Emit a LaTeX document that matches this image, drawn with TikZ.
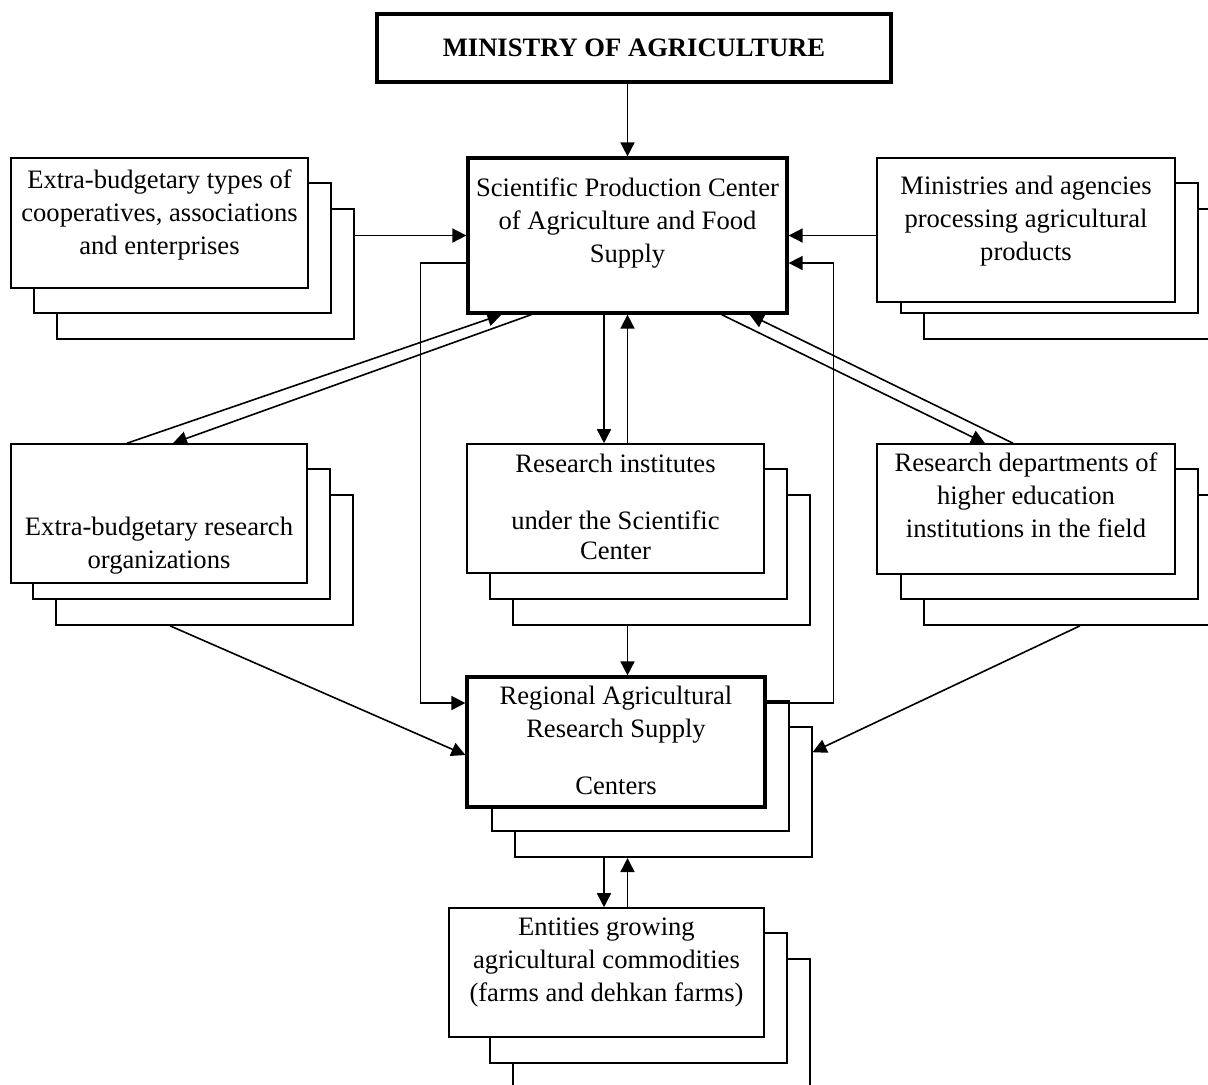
\documentclass[tikz,border=0pt]{standalone}
\usepackage{fontspec}
\setmainfont{Liberation Serif}
\usetikzlibrary{arrows.meta,backgrounds}

\newcommand{\bodyfont}{\fontsize{13.3}{16.5}\selectfont}
\newcommand{\backboxes}[1]{%
  \node[back, anchor=north east] (#1-3) at ([shift={(46,51)}]#1.north east) {};
  \node[back, anchor=north east] (#1-2) at ([shift={(23,25)}]#1.north east) {};
}

\tikzset{
  box/.style={draw, fill=white, line width=0.8pt, align=center, font=\bodyfont},
  thickbox/.style={box, line width=1.6pt},
  back/.style={draw, fill=white, line width=0.8pt, minimum width=148.5pt, minimum height=65pt, inner sep=0pt},
  tpos/.style 2 args={text height=#1, text depth=#2},
  arr/.style={line width=0.8pt, -{Triangle[length=7pt,width=7pt]}},
}

\begin{document}
\begin{tikzpicture}[x=0.5pt, y=-0.5pt]
\useasboundingbox (0,0) rectangle (1208,1084);

\node[thickbox, minimum width=257pt, minimum height=34pt, font=\bodyfont\bfseries] (ministry) at (634,48) {MINISTRY OF AGRICULTURE};
\node[thickbox, minimum width=159.5pt, minimum height=77.5pt, tpos={31pt}{4.5pt}] (spc) at (627.5,235.5)
  {Scientific Production Center\\of Agriculture and Food\\Supply};
\node[box, minimum width=148.5pt, minimum height=65pt, tpos={35pt}{4pt}] (coop) at (159.5,223)
  {Extra-budgetary types of\\cooperatives, associations\\and enterprises};
\node[box, minimum width=149pt, minimum height=72pt, tpos={34pt}{4pt}] (mins) at (1026,230)
  {Ministries and agencies\\processing agricultural\\products};
\node[box, minimum width=148pt, minimum height=69.5pt, tpos={55.5pt}{1pt}] (orgs) at (159,513.5)
  {Extra-budgetary research\\organizations};
\node[box, minimum width=148.5pt, minimum height=64.5pt, tpos={52pt}{1.5pt}] (inst) at (615.5,508.5)
  {Research institutes\\[12pt]under the Scientific\\[-1.5pt]Center};
\node[box, minimum width=149pt, minimum height=65pt, tpos={32pt}{4pt}] (dept) at (1026,509)
  {Research departments of\\higher education\\institutions in the field};
\node[thickbox, minimum width=149pt, minimum height=65pt, tpos={53pt}{1pt}] (reg) at (616,742)
  {Regional Agricultural\\Research Supply\\[12pt]Centers};
\node[box, minimum width=157.5pt, minimum height=64.5pt, tpos={32.5pt}{4pt}] (ent) at (606.5,972.5)
  {Entities growing\\agricultural commodities\\(farms and dehkan farms)};

\begin{scope}[on background layer]
\backboxes{coop}
\backboxes{mins}
\backboxes{orgs}
\backboxes{inst}
\backboxes{dept}
\backboxes{reg}
\backboxes{ent}
\end{scope}

\coordinate (lane1) at ([xshift=-11.75pt]spc.south);
\coordinate (lane2) at (spc.south);

\draw[arr] (ministry.south -| spc.north) -- (spc.north);
\draw[arr] (coop-3.east |- spc.west) -- (spc.west);
\draw[arr] (mins.west |- spc.east) -- (spc.east);
\draw[arr] ([yshift=-13.75pt]spc.west) -- ++(-46,0) |- ([yshift=19.5pt]reg.west);
\draw[arr] ([yshift=19.5pt]reg.east) -- ++(67,0) |- ([yshift=-13.75pt]spc.east);
\draw[arr] (lane1) -- (lane1 |- inst.north);
\draw[arr] (lane2 |- inst.north) -- (lane2);
\draw[arr] (lane2 |- inst-3.south) -- (lane2 |- reg.north);
\draw[arr] (lane1 |- reg-3.south) -- (lane1 |- ent.north);
\draw[arr] (lane2 |- ent.north) -- (lane2 |- reg-3.south);
\draw[arr] ([xshift=-16pt]orgs.north) -- ([xshift=17.5pt]spc.south west);
\draw[arr] ([xshift=32.5pt]spc.south west) -- ([xshift=7pt]orgs.north);
\draw[arr] ([xshift=-6.5pt]dept.north) -- ([xshift=-19.5pt]spc.south east);
\draw[arr] ([xshift=-33.5pt]spc.south east) -- ([xshift=-20.5pt]dept.north);
\draw[arr] ([xshift=-17.25pt]orgs-3.south) -- ([yshift=-6.5pt]reg.west);
\draw[arr] ([xshift=3.75pt]dept-3.south) -- ([yshift=20pt]reg-3.east);
\end{tikzpicture}
\end{document}
